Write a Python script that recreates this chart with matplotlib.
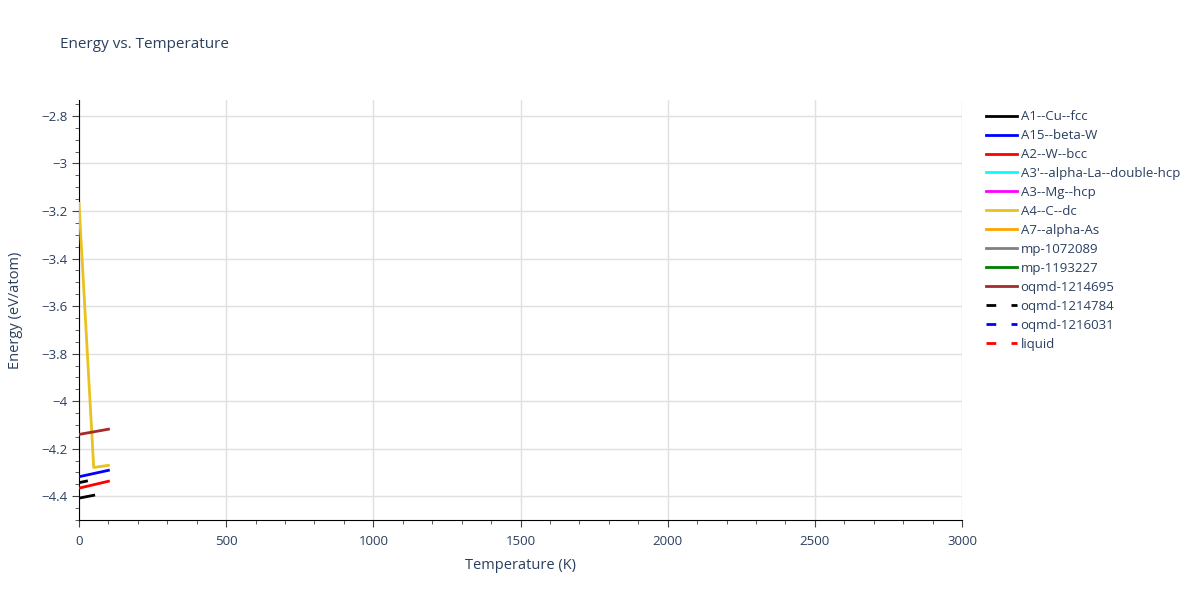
import numpy as np
import matplotlib.pyplot as plt
from matplotlib.ticker import MultipleLocator, FuncFormatter
from matplotlib.lines import Line2D

plt.rcParams['font.family'] = ['Open Sans', 'DejaVu Sans']

names = ["A1--Cu--fcc", "A15--beta-W", "A2--W--bcc", "A3'--alpha-La--double-hcp",
         "A3--Mg--hcp", "A4--C--dc", "A7--alpha-As", "mp-1072089", "mp-1193227",
         "oqmd-1214695", "oqmd-1214784", "oqmd-1216031", "liquid"]
colors = ["black", "blue", "red", "cyan", "magenta", "#e8c21e", "orange", "gray",
          "green", "brown", "black", "blue", "red"]
dashed = [False] * 10 + [True] * 3

# temperature (K) and energy (eV/atom) per series
temps = {
    "A1--Cu--fcc": [0, 50],
    "A15--beta-W": [0, 100],
    "A2--W--bcc": [0, 100],
    "A4--C--dc": [0, 50, 100],
    "oqmd-1214695": [0, 100],
    "oqmd-1214784": [0, 30],
}
energies = {
    "A1--Cu--fcc": [-4.408, -4.396],
    "A15--beta-W": [-4.318, -4.291],
    "A2--W--bcc": [-4.366, -4.337],
    "A4--C--dc": [-3.168, -4.279, -4.270],
    "oqmd-1214695": [-4.140, -4.118],
    "oqmd-1214784": [-4.343, -4.335],
}

fig = plt.figure(figsize=(12, 6), dpi=100)
ax = fig.add_axes([79 / 1200, 80 / 600, 883 / 1200, 420 / 600])

handles = []
for name, c, d in zip(names, colors, dashed):
    ls = (0, (5, 5)) if d else '-'
    x = temps.get(name, [])
    y = energies.get(name, [])
    if x:
        ax.plot(x, y, color=c, lw=2, ls=ls, zorder=3)
    handles.append(Line2D([], [], color=c, lw=2, ls=(0, (3.5, 5.5)) if d else '-'))

ax.set_xlim(0, 3000)
ax.set_ylim(-4.5, -2.733)
ax.xaxis.set_major_locator(MultipleLocator(500))
ax.xaxis.set_minor_locator(MultipleLocator(100))
ax.yaxis.set_major_locator(MultipleLocator(0.2))
ax.yaxis.set_minor_locator(MultipleLocator(0.05))
ax.yaxis.set_major_formatter(FuncFormatter(lambda v, p: ('%g' % round(v, 2)).replace('-', '\u2212')))
ax.grid(True, which='major', color='#e0e0e0', lw=1)
ax.set_axisbelow(True)
for s in ['top', 'right']:
    ax.spines[s].set_visible(False)
for s in ['left', 'bottom']:
    ax.spines[s].set_color('black')
ax.tick_params(which='major', length=5, color='#444444', labelcolor='#2a3f5f', labelsize=9.5)
ax.tick_params(which='minor', length=3, color='#444444')
ax.tick_params(axis='x', pad=6)

ax.set_xlabel('Temperature (K)', color='#2a3f5f', fontsize=10.5, labelpad=7)
ax.set_ylabel('Energy (eV/atom)', color='#2a3f5f', fontsize=10.5, labelpad=13)
fig.text(60 / 1200, 1 - 45 / 600, 'Energy vs. Temperature', color='#2a3f5f', fontsize=11, va='center')

fig.legend(handles, names, loc='upper left', bbox_to_anchor=(981 / 1200, 1 - 105 / 600),
           frameon=False, fontsize=9.5, labelcolor='#2a3f5f', handlelength=2.3,
           handletextpad=0.3, labelspacing=0.45, borderaxespad=0)

fig.savefig('out.png')
